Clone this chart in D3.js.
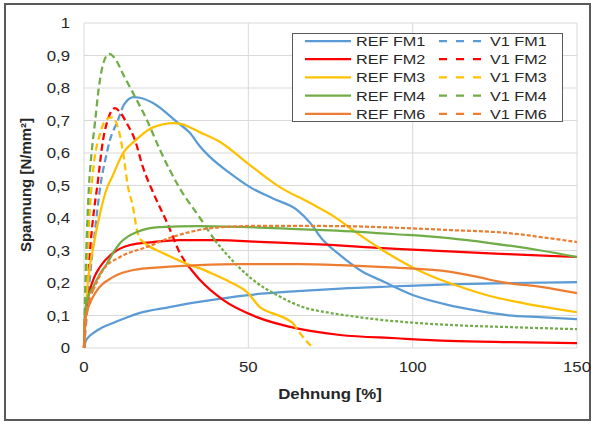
<!DOCTYPE html>
<html>
<head>
<meta charset="utf-8">
<script src="https://cdn.jsdelivr.net/npm/d3@7"></script>
<style>
  body { margin: 0; background: #fff; }
  svg { display: block; font-family: "Liberation Sans", Arial, sans-serif; }
</style>
</head>
<body>
<div class="container"></div>
<script>
var width = 597;
var height = 425;
var margin = {top: 23, right: 20, bottom: 77, left: 84};

// strain [%], stress [N/mm²]
var refFM1 = [[0,0],[0.5,0.02],[1.5,0.035],[2.8,0.046],[5,0.06],[8.8,0.077],[12,0.09],[17,0.108],[26,0.126],[35,0.142],[50,0.163],[65,0.175],[78,0.183],[95,0.19],[111,0.196],[130,0.2],[150,0.203]];
var v1FM1 = [[0,0],[1,0.12],[2,0.24],[3,0.33],[4,0.42],[5,0.5],[6.5,0.58],[7.9,0.64],[10.3,0.7],[11.9,0.745],[13.5,0.765],[15,0.772],[17,0.77],[21,0.754],[28.3,0.695],[32.2,0.662],[35.3,0.62],[38.3,0.588],[44.4,0.538],[50.5,0.495],[57.5,0.46],[64.8,0.425],[68.8,0.385],[72.7,0.332],[77.9,0.286],[84.9,0.234],[90.1,0.209],[100,0.163],[111,0.132],[118.3,0.117],[128.7,0.101],[138.7,0.095],[150,0.089]];
var refFM2 = [[0,0],[0.3,0.08],[0.8,0.13],[1.8,0.178],[3,0.215],[4.9,0.25],[8.8,0.292],[14,0.317],[21,0.326],[29,0.332],[40,0.332],[55,0.326],[75,0.317],[95,0.305],[111,0.297],[129,0.289],[150,0.28]];
var v1FM2 = [[0,0],[0.5,0.1],[1,0.18],[2,0.32],[3,0.42],[4,0.495],[5.8,0.64],[7.5,0.71],[9.4,0.738],[11,0.725],[13.1,0.69],[15.5,0.64],[17.9,0.557],[20.7,0.486],[25.3,0.385],[29.2,0.292],[32.2,0.246],[35.3,0.209],[42.3,0.148],[52.6,0.095],[62.7,0.065],[77.9,0.04],[95,0.03],[111,0.022],[130,0.018],[150,0.015]];
var refFM3 = [[0,0],[0.3,0.06],[0.8,0.157],[1.5,0.23],[2.8,0.31],[4.9,0.415],[6.9,0.49],[8.5,0.525],[11.9,0.6],[16,0.642],[20,0.674],[24,0.688],[27,0.692],[30,0.688],[32,0.68],[35,0.665],[41.4,0.634],[50.5,0.563],[59.6,0.495],[68.8,0.446],[76,0.405],[83,0.354],[91,0.3],[100,0.248],[106,0.22],[114,0.19],[123.5,0.16],[133.6,0.138],[150,0.11]];
var v1FM3 = [[0,0],[0.5,0.15],[1.5,0.38],[2.8,0.548],[4.9,0.66],[6.5,0.7],[8.4,0.71],[10.3,0.68],[11.9,0.6],[13.4,0.495],[14.9,0.434],[16.1,0.363],[17,0.335],[19.2,0.317],[24,0.292],[29.2,0.268],[32.2,0.255],[35.3,0.245],[38.3,0.232],[44.4,0.203],[49.9,0.169],[53.5,0.126],[57,0.108],[60.5,0.095],[63.6,0.077],[65.7,0.046],[69.7,0]];
var refFM4 = [[0,0],[0.3,0.108],[1,0.15],[2.8,0.188],[5,0.23],[7,0.26],[9,0.295],[11,0.323],[16.1,0.357],[23,0.372],[35,0.375],[50,0.372],[65,0.366],[75,0.362],[95,0.35],[111,0.338],[123.5,0.323],[139,0.3],[150,0.28]];
var v1FM4 = [[0,0],[0.3,0.15],[0.7,0.3],[1.5,0.495],[2.3,0.6],[3.3,0.69],[4.5,0.8],[6,0.88],[7.6,0.905],[9.5,0.89],[12,0.84],[14.9,0.785],[19.2,0.7],[23.1,0.61],[29.2,0.49],[35.3,0.4],[39.9,0.33],[46.5,0.255],[52,0.205],[58.7,0.163],[66.6,0.126],[74.8,0.108],[80,0.1],[90,0.087],[100,0.078],[111,0.071],[130,0.064],[150,0.058]];
var refFM6 = [[0,0],[0.3,0.086],[1.5,0.13],[4,0.178],[8.8,0.218],[15,0.24],[24,0.249],[35,0.255],[47.5,0.258],[65,0.258],[78,0.255],[95,0.247],[111,0.235],[120,0.218],[127,0.203],[139,0.188],[150,0.169]];
var v1FM6 = [[0,0],[0.3,0.05],[0.9,0.108],[2.8,0.178],[5.8,0.24],[11,0.28],[19.2,0.311],[27,0.342],[32.2,0.357],[42.3,0.372],[55,0.376],[77.9,0.375],[95,0.37],[111,0.363],[128.7,0.354],[140,0.34],[150,0.326]];

var xTicks = [0, 50, 100, 150];
var yTicks = [0, 0.1, 0.2, 0.3, 0.4, 0.5, 0.6, 0.7, 0.8, 0.9, 1];

var series = [
  {name: "REF FM1", data: refFM1, color: "#5b9bd5", parts: [[0, 150, null]]},
  {name: "V1 FM1",  data: v1FM1,  color: "#5b9bd5", parts: [[0, 11.9, "7,4"], [11.9, 150, null]]},
  {name: "REF FM2", data: refFM2, color: "#ff0000", parts: [[0, 150, null]]},
  {name: "V1 FM2",  data: v1FM2,  color: "#ff0000", parts: [[0, 32.2, "7,4"], [32.2, 150, null]]},
  {name: "REF FM3", data: refFM3, color: "#ffc000", parts: [[0, 150, null]]},
  {name: "V1 FM3",  data: v1FM3,  color: "#ffc000", parts: [[0, 17, "7,4"], [17, 63.6, null], [63.6, 70, "7,4"]]},
  {name: "REF FM4", data: refFM4, color: "#70ad47", parts: [[0, 150, null]]},
  {name: "V1 FM4",  data: v1FM4,  color: "#70ad47", parts: [[0, 39.9, "7,4"], [39.9, 150, "3,2"]]},
  {name: "REF FM6", data: refFM6, color: "#ed7d31", parts: [[0, 150, null]]},
  {name: "V1 FM6",  data: v1FM6,  color: "#ed7d31", parts: [[0, 2.8, "7,4"], [2.8, 150, "4,2"]]}
];

var svg = d3.select(".container").append("svg")
  .attr("width", width)
  .attr("height", height);

// frame
svg.append("rect")
  .attr("x", 5).attr("y", 4)
  .attr("width", 585).attr("height", 416)
  .attr("fill", "#fff")
  .attr("stroke", "#595959")
  .attr("stroke-width", 2);

var xScale = d3.scaleLinear().domain([0, 150]).range([margin.left, width - margin.right]);
var yScale = d3.scaleLinear().domain([0, 1]).range([height - margin.bottom, margin.top]);

var comma = d3.formatLocale({decimal: ",", thousands: ".", grouping: [3], currency: ["", "€"]});
var fmtY = function(d) { return d === 0 || d === 1 ? String(d) : comma.format(".1f")(d); };

// stretched text like the picture
function wideText(g, x, y, str, anchor, size, bold) {
  return g.append("text")
    .attr("transform", "translate(" + x + "," + y + ") scale(1.2,1)")
    .attr("text-anchor", anchor)
    .attr("font-size", size)
    .attr("font-weight", bold ? "bold" : "normal")
    .attr("fill", "#262626")
    .text(str);
}

// grid
var grid = svg.append("g");
grid.selectAll(".hg").data(yTicks).enter().append("line")
  .attr("x1", xScale(0)).attr("x2", xScale(150))
  .attr("y1", d => yScale(d)).attr("y2", d => yScale(d))
  .attr("stroke", "#d9d9d9").attr("stroke-width", 1);
grid.selectAll(".vg").data(xTicks).enter().append("line")
  .attr("x1", d => xScale(d)).attr("x2", d => xScale(d))
  .attr("y1", yScale(0)).attr("y2", yScale(1))
  .attr("stroke", "#d9d9d9").attr("stroke-width", 1);

// tick labels
var labels = svg.append("g");
yTicks.forEach(function(d) { wideText(labels, 70, yScale(d) + 5, fmtY(d), "end", 14); });
xTicks.forEach(function(d) { wideText(labels, xScale(d), 372, String(d), "middle", 14); });

wideText(labels, 330, 399, "Dehnung [%]", "middle", 14, true);
labels.append("text")
  .attr("transform", "translate(31," + 185 + ") rotate(-90)")
  .attr("text-anchor", "middle")
  .attr("font-size", 15)
  .attr("font-weight", "bold")
  .attr("fill", "#262626")
  .text("Spannung [N/mm²]");

// curves
var line = d3.line()
  .x(d => xScale(d[0]))
  .y(d => yScale(d[1]))
  .curve(d3.curveMonotoneX);

var curves = svg.append("g");
series.forEach(function(s) {
  s.parts.forEach(function(p) {
    var pts = s.data.filter(d => d[0] >= p[0] && d[0] <= p[1]);
    curves.append("path")
      .attr("d", line(pts))
      .attr("fill", "none")
      .attr("stroke", s.color)
      .attr("stroke-width", 2.25)
      .attr("stroke-linejoin", "round")
      .attr("stroke-dasharray", p[2]);
  });
});

// legend
var legend = svg.append("g");
legend.append("rect")
  .attr("x", 292.5).attr("y", 33.5)
  .attr("width", 270).attr("height", 88)
  .attr("fill", "#fff")
  .attr("stroke", "#595959")
  .attr("stroke-width", 1);

series.forEach(function(s, i) {
  var row = Math.floor(i / 2);
  var col = i % 2;
  var y = 41 + row * 18.2;
  var lx = col === 0 ? 305 : 439;
  legend.append("line")
    .attr("x1", lx).attr("x2", lx + 46)
    .attr("y1", y).attr("y2", y)
    .attr("stroke", s.color)
    .attr("stroke-width", 2.25)
    .attr("stroke-dasharray", col === 0 ? null : "8,9");
  wideText(legend, lx + 51, y + 5, s.name, "start", 13.5);
});
</script>
</body>
</html>
